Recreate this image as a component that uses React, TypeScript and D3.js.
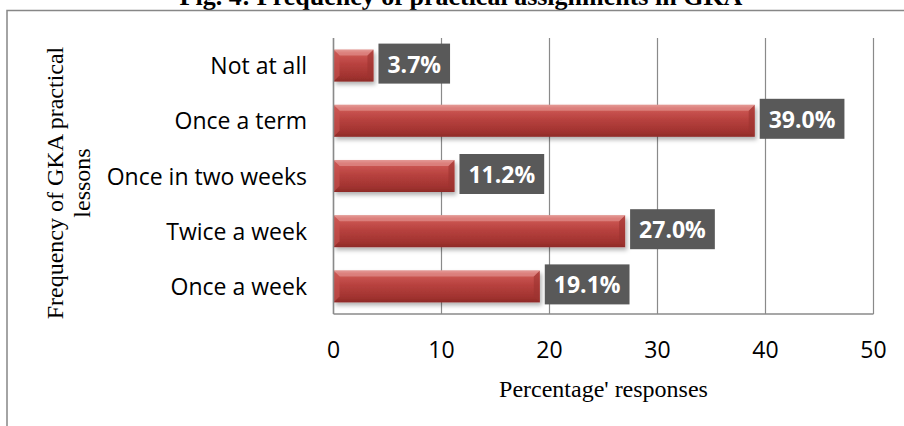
import React, { useEffect, useRef } from 'react';
import * as d3 from 'd3';

const categories = ['Not at all', 'Once a term', 'Once in two weeks', 'Twice a week', 'Once a week'];
const values = [3.7, 39.0, 11.2, 27.0, 19.1];
const xTicks = [0, 10, 20, 30, 40, 50];
const title = 'Fig. 4: Frequency of practical assignments in GKA';
const xTitle = "Percentage' responses";
const yTitleLines = ['Frequency of GKA practical', 'lessons'];

export default function App() {
  const ref = useRef<SVGSVGElement>(null);

  useEffect(() => {
    const svg = d3.select(ref.current as SVGSVGElement);
    svg.selectAll('*').remove();

    const sans = "'Open Sans', sans-serif";
    const serif = "'Liberation Serif', 'Times New Roman', serif";
    const gridColor = '#8a8a8a';

    const x = d3.scaleLinear().domain([0, 50]).range([333.5, 873.5]);
    const y = d3.scaleBand<string>().domain(categories).range([38, 314]).paddingInner(0.42).paddingOuter(0.21);

    const defs = svg.append('defs');
    const grad = defs.append('linearGradient').attr('id', 'barGrad').attr('x1', 0).attr('y1', 0).attr('x2', 0).attr('y2', 1);
    [
      [0, '#e0938f'],
      [0.1, '#cf5a56'],
      [0.45, '#b8423f'],
      [0.85, '#a0322f'],
      [1, '#8e2b28'],
    ].forEach(([o, c]) => grad.append('stop').attr('offset', o as number).attr('stop-color', c as string));
    const endGrad = defs.append('linearGradient').attr('id', 'endGrad').attr('x1', 0).attr('y1', 0).attr('x2', 1).attr('y2', 0);
    endGrad.append('stop').attr('offset', 0).attr('stop-color', '#ffffff').attr('stop-opacity', 0);
    endGrad.append('stop').attr('offset', 1).attr('stop-color', '#ffffff').attr('stop-opacity', 0.18);
    const filt = defs.append('filter').attr('id', 'shadow').attr('x', '-10%').attr('y', '-30%').attr('width', '130%').attr('height', '180%');
    filt.append('feDropShadow').attr('dx', 2).attr('dy', 3).attr('stdDeviation', 2)
      .attr('flood-color', '#000').attr('flood-opacity', 0.3);

    // background
    svg.append('rect').attr('x', 0).attr('y', 0).attr('width', 904).attr('height', 426).attr('fill', '#fff');

    // title (partly cut at top)
    svg.append('text').attr('x', 461).attr('y', 5).attr('text-anchor', 'middle')
      .attr('font-family', serif).attr('font-weight', 'bold').attr('font-size', 26).attr('fill', '#000')
      .text(title);

    // frame
    svg.append('rect').attr('x', 7).attr('y', 10.5).attr('width', 1200).attr('height', 1000)
      .attr('fill', 'none').attr('stroke', '#878787').attr('stroke-width', 1.5);

    // gridlines
    svg.append('g').selectAll('line').data(xTicks).join('line')
      .attr('x1', (d) => x(d)).attr('x2', (d) => x(d))
      .attr('y1', 38).attr('y2', 314)
      .attr('stroke', gridColor).attr('stroke-width', 1.2);

    // bottom axis line
    svg.append('line').attr('x1', x(0)).attr('x2', x(50)).attr('y1', 314).attr('y2', 314)
      .attr('stroke', gridColor).attr('stroke-width', 1.5);

    // bars
    const bars = svg.append('g');
    categories.forEach((c, i) => {
      const y0 = y(c) as number;
      const bw = y.bandwidth();
      const x0 = x(0);
      const w = x(values[i]) - x0;
      const g = bars.append('g');
      g.append('rect').attr('x', x0).attr('y', y0).attr('width', w).attr('height', bw)
        .attr('fill', 'url(#barGrad)').attr('filter', 'url(#shadow)');
      // right end bevel
      const bev = Math.min(6, w / 3);
      g.append('path')
        .attr('d', `M${x0 + w - bev},${y0 + bev} L${x0 + w},${y0} L${x0 + w},${y0 + bw} L${x0 + w - bev},${y0 + bw - bev} Z`)
        .attr('fill', '#9c3330').attr('opacity', 0.6);
      // top highlight bevel
      g.append('path')
        .attr('d', `M${x0},${y0} L${x0 + w},${y0} L${x0 + w - bev},${y0 + bev} L${x0 + bev},${y0 + bev} Z`)
        .attr('fill', '#e8a09c').attr('opacity', 0.55);
      // left end bevel
      g.append('path')
        .attr('d', `M${x0},${y0} L${x0 + bev},${y0 + bev} L${x0 + bev},${y0 + bw - bev} L${x0},${y0 + bw} Z`)
        .attr('fill', '#c85450').attr('opacity', 0.6);
    });

    // left axis line (on top of bars)
    svg.append('line').attr('x1', x(0)).attr('x2', x(0)).attr('y1', 38).attr('y2', 314)
      .attr('stroke', gridColor).attr('stroke-width', 1.5);

    // data labels
    const labels = svg.append('g');
    categories.forEach((c, i) => {
      const cy = (y(c) as number) + y.bandwidth() / 2 - 2;
      const bx = x(values[i]) + 5;
      const g = labels.append('g');
      const rect = g.append('rect').attr('x', bx).attr('y', cy - 20).attr('height', 40).attr('fill', '#595959');
      const t = g.append('text').attr('x', bx + 9).attr('y', cy + 9)
        .attr('font-family', sans).attr('font-weight', 'bold').attr('font-size', 23).attr('fill', '#fff')
        .text(values[i].toFixed(1) + '%');
      const len = (t.node() as SVGTextElement).getComputedTextLength();
      rect.attr('width', len + 18);
    });

    // category labels
    svg.append('g').selectAll('text').data(categories).join('text')
      .attr('x', 307).attr('y', (d) => (y(d) as number) + y.bandwidth() / 2 + 8.5)
      .attr('text-anchor', 'end').attr('font-family', sans).attr('font-size', 23).attr('fill', '#000')
      .text((d) => d);

    // tick labels
    svg.append('g').selectAll('text').data(xTicks).join('text')
      .attr('x', (d) => x(d)).attr('y', 358)
      .attr('text-anchor', 'middle').attr('font-family', sans).attr('font-size', 23).attr('fill', '#000')
      .text((d) => String(d));

    // x title
    svg.append('text').attr('x', (x(0) + x(50)) / 2).attr('y', 397).attr('text-anchor', 'middle')
      .attr('font-family', serif).attr('font-size', 24).attr('fill', '#000').text(xTitle);

    // y title
    yTitleLines.forEach((line, i) => {
      svg.append('text').attr('transform', `translate(${63 + i * 27},183) rotate(-90)`)
        .attr('text-anchor', 'middle').attr('font-family', serif).attr('font-size', 24).attr('fill', '#000')
        .text(line);
    });
  }, []);

  return (
    <svg
      ref={ref}
      width={904}
      height={426}
      style={{ position: 'absolute', left: 0, top: 0, display: 'block' }}
    />
  );
}
